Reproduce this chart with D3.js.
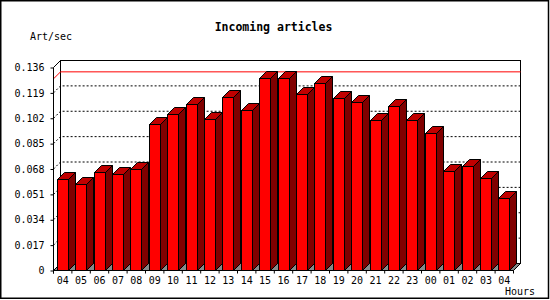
<!DOCTYPE html>
<html>
<head>
<meta charset="utf-8">
<script src="https://cdn.jsdelivr.net/npm/d3@7"></script>
<style>
html,body{margin:0;padding:0;background:#fff;}
svg{display:block;}
</style>
</head>
<body>
<svg id="chart" width="550" height="300"></svg>
<script>
const hours = ["04","05","06","07","08","09","10","11","12","13","14","15","16","17","18","19","20","21","22","23","00","01","02","03","04"];
const articles = [0.0608,0.0576,0.0654,0.0641,0.0679,0.0976,0.1043,0.1110,0.1009,0.1157,0.1070,0.1284,0.1284,0.1177,0.1251,0.1150,0.1123,0.1003,0.1097,0.1003,0.0915,0.0661,0.0695,0.0614,0.0484];
const yTicks = [0,0.017,0.034,0.051,0.068,0.085,0.102,0.119,0.136];
const titleText = "Incoming articles";
const yUnit = "Art/sec";
const xUnit = "Hours";

const svg = d3.select("#chart");
const FONT = "'DejaVu Sans Mono', 'Liberation Mono', monospace";
const D = 7; // 3D depth
const yMax = yTicks[yTicks.length-1];

const x = d3.scaleBand().domain(d3.range(hours.length)).range([53.5, 513.5]).padding(0);
const y = d3.scaleLinear().domain([0, yMax]).range([270.5, 67.5]);

const left = x.range()[0], right = x.range()[1];

// outer frame
svg.append("rect").attr("x",0.75).attr("y",0.75).attr("width",547.75).attr("height",297.5)
  .attr("fill","#fff").attr("stroke","#000").attr("stroke-width",1.5);

// back wall
svg.append("rect")
  .attr("x", left + D).attr("y", y(yMax) - D)
  .attr("width", right - left).attr("height", y(0) - y(yMax))
  .attr("fill","#fff").attr("stroke","#000").attr("stroke-width",1);

// floor
svg.append("polygon")
  .attr("points", [[left,y(0)],[right,y(0)],[right+D,y(0)-D],[left+D,y(0)-D]].map(p=>p.join(",")).join(" "))
  .attr("fill","#888888").attr("stroke","#000").attr("stroke-width",1);

// gridlines
yTicks.filter(t => t > 0).forEach(t => {
  const yy = y(t);
  svg.append("path")
    .attr("d", `M${left},${yy}L${left+D},${yy-D}L${right+D},${yy-D}`)
    .attr("fill","none").attr("stroke","#000").attr("stroke-width",1)
    .attr("stroke-dasharray", t === yMax ? null : "2,2");
});

// max line
const vmax = d3.max(articles);
svg.append("path")
  .attr("d", `M${left},${y(vmax)}L${left+D},${y(vmax)-D}L${right+D},${y(vmax)-D}`)
  .attr("fill","none").attr("stroke","#ff0000").attr("stroke-width",1);

// bars
const bw = 11;
const bars = svg.append("g");
articles.forEach((v, i) => {
  const bx = Math.round(x(i) + x.bandwidth()*0.18) + 0.5;
  const top = Math.round(y(v) - 0.5) + 0.5;
  const base = y(0);
  const g = bars.append("g");
  g.append("polygon")
    .attr("points", [[bx+bw,top],[bx+bw+D,top-D],[bx+bw+D,base-D],[bx+bw,base]].map(p=>p.join(",")).join(" "))
    .attr("fill","#800000").attr("stroke","#000").attr("stroke-width",1);
  g.append("polygon")
    .attr("points", [[bx,top],[bx+D,top-D],[bx+bw+D,top-D],[bx+bw,top]].map(p=>p.join(",")).join(" "))
    .attr("fill","#c00000").attr("stroke","#000").attr("stroke-width",1);
  g.append("rect")
    .attr("x", bx).attr("y", top).attr("width", bw).attr("height", base - top)
    .attr("fill","#ff0000").attr("stroke","#000").attr("stroke-width",1);
});

// y axis
const yAxis = d3.axisLeft(y).tickValues(yTicks).tickSize(3).tickPadding(6)
  .tickFormat(d => d === 0 ? "0" : d3.format(".3f")(d));
const gy = svg.append("g").attr("transform", `translate(${left},0)`).call(yAxis);
gy.select(".domain").attr("d", `M0,${y(yMax)}V${y(0)+3}`).attr("stroke","#000");
gy.selectAll("text").attr("font-family", FONT).attr("font-size", 10).attr("fill","#000");
gy.selectAll("line").attr("stroke","#000");

// x axis
const xAxis = d3.axisBottom(x).tickSize(0).tickPadding(6).tickFormat(i => hours[i]);
const gx = svg.append("g").attr("transform", `translate(0,${y(0)})`).call(xAxis);
gx.select(".domain").attr("d", `M${left},0H${right}`).attr("stroke","#000");
gx.selectAll("text").attr("font-family", FONT).attr("font-size", 10).attr("fill","#000");
// boundary ticks
gx.selectAll(".bt").data(d3.range(hours.length + 1)).enter().append("line")
  .attr("x1", i => left + i * x.step()).attr("x2", i => left + i * x.step())
  .attr("y1", 0).attr("y2", 3).attr("stroke","#000");

// texts
svg.append("text").attr("x", 273.5).attr("y", 31).attr("text-anchor","middle")
  .attr("font-family", FONT).attr("font-size", 11.5).attr("font-weight","bold").text(titleText);
svg.append("text").attr("x", 30).attr("y", 40)
  .attr("font-family", FONT).attr("font-size", 10).text(yUnit);
svg.append("text").attr("x", 505).attr("y", 295)
  .attr("font-family", FONT).attr("font-size", 10).text(xUnit);
</script>
</body>
</html>
